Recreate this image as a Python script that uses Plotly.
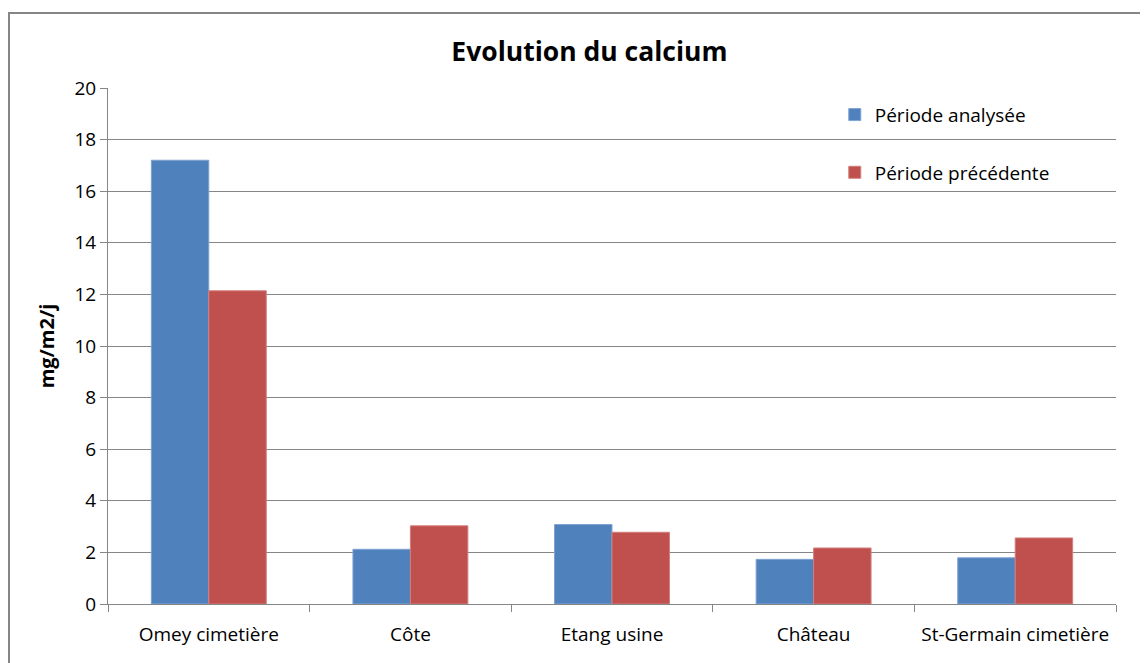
import plotly.graph_objects as go

categories = ["Omey cimetière", "Côte", "Etang usine", "Château", "St-Germain cimetière"]
periode_analysee = [17.2, 2.12, 3.08, 1.73, 1.79]
periode_precedente = [12.14, 3.03, 2.78, 2.17, 2.56]
series_names = ["Période analysée", "Période précédente"]
y_ticks = [0, 2, 4, 6, 8, 10, 12, 14, 16, 18, 20]

FONT = "Open Sans"
GRID = "#868686"

fig = go.Figure()
fig.add_trace(go.Bar(
    x=categories, y=periode_analysee, name=series_names[0],
    marker=dict(color="#4F81BD", line=dict(color="#7FA3D1", width=1)),
    legendgroup="a",
))
fig.add_trace(go.Bar(
    x=categories, y=periode_precedente, name=series_names[1],
    marker=dict(color="#C0504D", line=dict(color="#D27F7C", width=1)),
    legendgroup="b",
))

fig.update_layout(
    width=1140, height=655,
    margin=dict(l=100, r=32, t=80, b=59),
    paper_bgcolor="white", plot_bgcolor="white",
    barmode="group", bargap=0.43, bargroupgap=0,
    font=dict(family=FONT, size=19, color="#000000"),
    title=dict(text="<b>Evolution du calcium</b>", x=0.51, xanchor="center",
               y=1 - 44 / 655, yanchor="middle",
               font=dict(family=FONT, size=26.5, color="#000000")),
    legend=dict(x=0.721, y=0.985, xanchor="left", yanchor="top",
                bgcolor="rgba(0,0,0,0)", font=dict(family=FONT, size=19),
                tracegroupgap=30, traceorder="grouped",
                itemwidth=30),
    showlegend=True,
)

fig.update_xaxes(
    type="category",
    showline=True, linecolor=GRID, linewidth=1,
    ticks="outside", tickson="boundaries", ticklen=7, tickcolor=GRID,
    showgrid=False,
    ticklabelstandoff=13,
    tickfont=dict(family=FONT, size=19, color="#000000"),
)
fig.update_yaxes(
    range=[0, 20], tickvals=y_ticks,
    showline=True, linecolor=GRID, linewidth=1,
    ticks="outside", ticklen=7, tickcolor=GRID,
    showgrid=True, gridcolor=GRID, gridwidth=1,
    zeroline=False,
    tickfont=dict(family=FONT, size=19, color="#000000"),
    title=dict(text="<b>mg/m2/j</b>", font=dict(family=FONT, size=20, color="#000000"),
               standoff=14),
)

# Chart-area border (left and top visible)
fig.add_shape(type="rect", xref="paper", yref="paper",
              x0=(9 - 108) / 1008, x1=1.2, y0=-0.3, y1=(604 - 13) / 516,
              line=dict(color="#868686", width=2), fillcolor="rgba(0,0,0,0)",
              layer="below")

fig.write_html("out.html")
